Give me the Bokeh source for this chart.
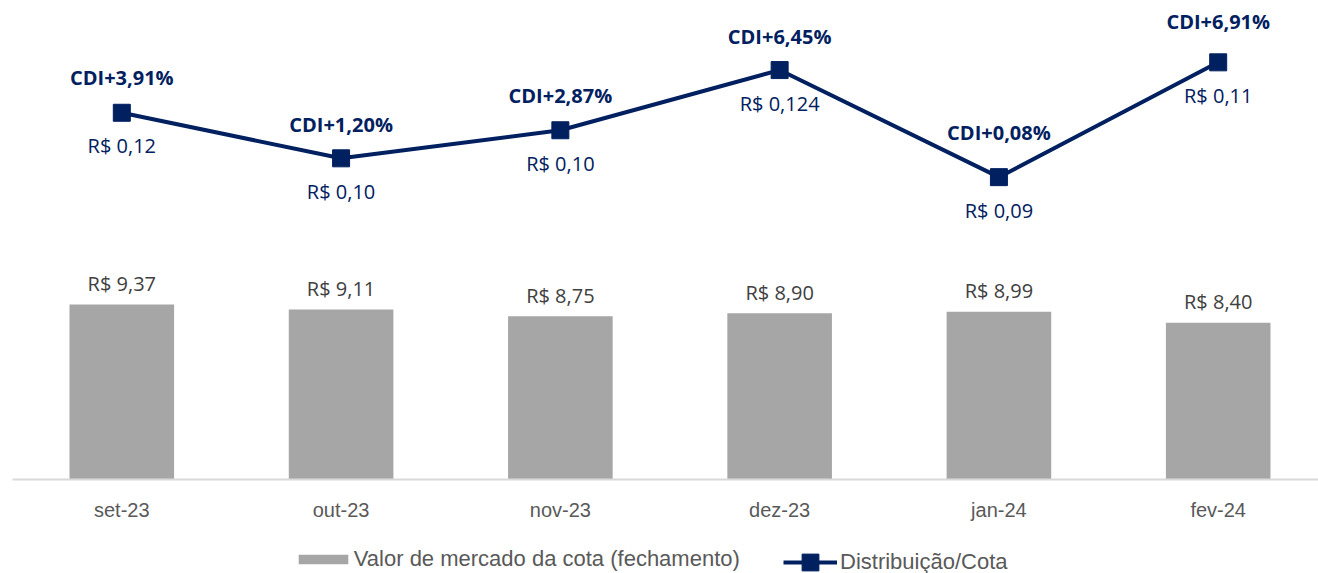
from bokeh.plotting import figure
from bokeh.models import Range1d, LinearAxis, FixedTicker, Legend, LegendItem
from bokeh.core.properties import value
from bokeh.embed import file_html
from bokeh.resources import INLINE

# ---- data ----
months = ["set-23", "out-23", "nov-23", "dez-23", "jan-24", "fev-24"]
market_value = [9.37, 9.11, 8.75, 8.90, 8.99, 8.40]          # R$ / cota (bars)
distribution = [0.12, 0.10, 0.10, 0.124, 0.09, 0.11]         # R$ / cota distributed
cdi_spread = [3.91, 1.20, 2.87, 6.45, 0.08, 6.91]            # CDI + x% (line)


def brl(v):
    s = f"{v:.3f}"
    if s.endswith("0"):
        s = s[:-1]
    return "R$ " + s.replace(".", ",")


bar_labels = [brl(v) for v in market_value]
dist_labels = [brl(v) for v in distribution]
cdi_labels = [f"CDI+{v:.2f}%".replace(".", ",") for v in cdi_spread]
xs = list(range(len(months)))

# ---- layout ----
W, H = 1318, 573
step = 219.28      # px per category
first_px = 121.3   # centre of first category
bar_ppu = 18.67    # px per R$ on bar scale
base_px = 94       # px of baseline above frame bottom
line_ppu = 16.81
line_zero_px = 395
cdi_label_offsets = [-35, -34, -35, -34, -45, -41]   # label placement (px)

NAVY = "#002060"

p = figure(width=W, height=H, output_backend="svg", toolbar_location=None,
           x_range=Range1d(-first_px / step, (W - first_px) / step),
           y_range=Range1d(-base_px / bar_ppu, (H - base_px) / bar_ppu),
           x_axis_location=None, y_axis_location=None,
           min_border=0, outline_line_color=None,
           background_fill_color="white", border_fill_color="white")
p.extra_y_ranges = {"line": Range1d(-line_zero_px / line_ppu, (H - line_zero_px) / line_ppu)}
p.xgrid.visible = False
p.ygrid.visible = False

xaxis = LinearAxis(fixed_location=0, bounds=(-0.5, len(months) - 0.5),
                   ticker=FixedTicker(ticks=xs),
                   major_label_overrides={i: m for i, m in enumerate(months)},
                   axis_line_color="#D9D9D9", axis_line_width=2,
                   major_tick_line_color=None, minor_tick_line_color=None,
                   major_tick_out=0, major_tick_in=0,
                   major_label_standoff=19,
                   major_label_text_font="Liberation Sans",
                   major_label_text_font_size="20px",
                   major_label_text_color="#595959")
p.add_layout(xaxis, "below")

bars = p.vbar(x=xs, top=market_value, width=0.477, bottom=0,
              fill_color="#A6A6A6", line_color=None)

line = p.line(xs, cdi_spread, y_range_name="line", line_color=NAVY, line_width=4)
marks = p.scatter(xs, cdi_spread, y_range_name="line", marker="square", size=17,
                  fill_color=NAVY, line_color=NAVY)

p.text(x=xs, y=market_value, text=bar_labels, text_align="center",
       text_baseline="middle", y_offset=-21,
       text_font=value("Open Sans"), text_font_size="20px", text_color="#404040")

p.text(x=xs, y=cdi_spread, text=cdi_labels, y_range_name="line",
       text_align="center", text_baseline="middle", y_offset=cdi_label_offsets,
       text_font=value("Open Sans"), text_font_style="bold",
       text_font_size="20px", text_color=NAVY)

p.text(x=xs, y=cdi_spread, text=dist_labels, y_range_name="line",
       text_align="center", text_baseline="middle", y_offset=33,
       text_font=value("Open Sans"), text_font_size="20px", text_color=NAVY)

common = dict(orientation="horizontal", padding=0, margin=0, spacing=0,
              border_line_color=None, background_fill_alpha=0,
              label_text_font="Liberation Sans", label_text_font_size="22px",
              label_text_color="#595959", label_height=24)

leg1 = Legend(items=[LegendItem(label="Valor de mercado da cota (fechamento)", renderers=[bars])],
              location=(291.8, 1), glyph_width=62, glyph_height=12, label_standoff=0, **common)
leg2 = Legend(items=[LegendItem(label="Distribuição/Cota", renderers=[line, marks])],
              location=(783, -10), glyph_width=54, glyph_height=42, label_standoff=3, **common)
p.add_layout(leg1)
p.add_layout(leg2)

open("out.html", "w").write(file_html(p, INLINE))
